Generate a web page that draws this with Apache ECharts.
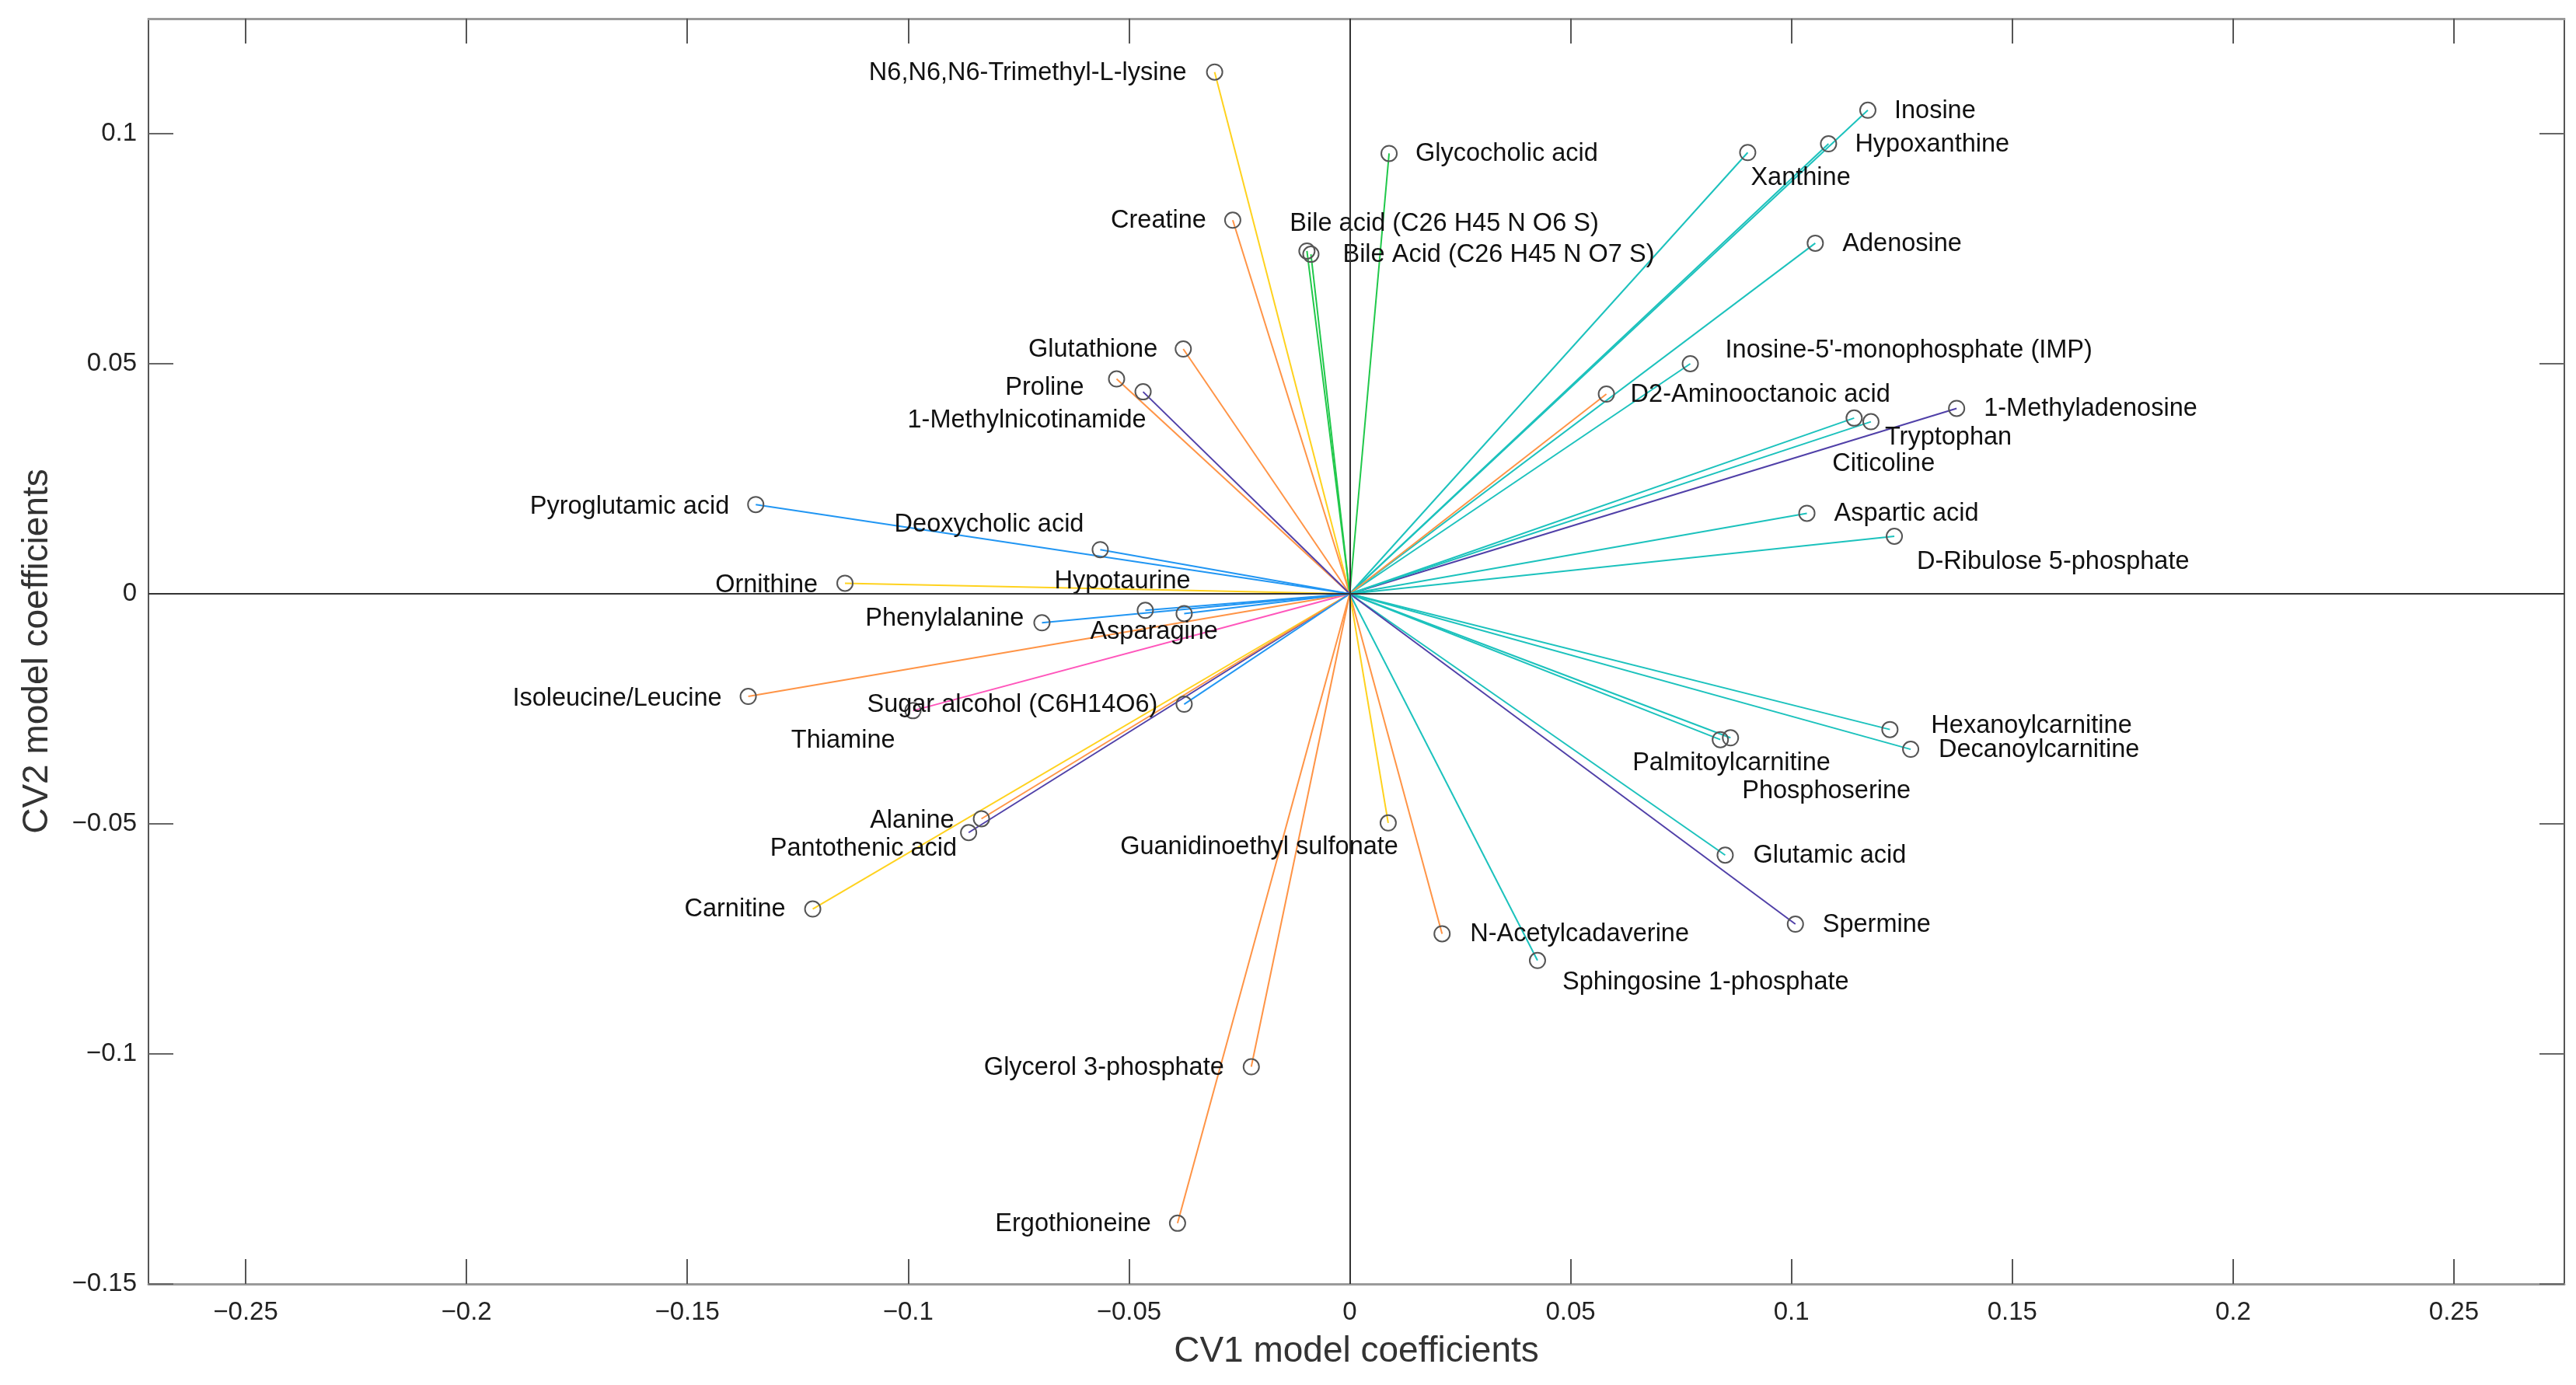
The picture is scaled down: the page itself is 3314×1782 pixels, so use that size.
<!DOCTYPE html>
<html>
<head>
<meta charset="utf-8">
<script src="https://cdn.jsdelivr.net/npm/echarts@6/dist/echarts.min.js"></script>
<style>
html,body{margin:0;padding:0;background:#ffffff;}
#chart{width:3314px;height:1782px;}
</style>
</head>
<body>
<div id="chart"></div>
<script>
// ---------------- data ----------------
const metaboliteNames = [
  "N6,N6,N6-Trimethyl-L-lysine", "Glycocholic acid", "Creatine",
  "Bile acid (C26 H45 N O6 S)", "Bile Acid (C26 H45 N O7 S)", "Glutathione",
  "Proline", "1-Methylnicotinamide", "Inosine", "Hypoxanthine", "Xanthine",
  "Adenosine", "Inosine-5'-monophosphate (IMP)", "D2-Aminooctanoic acid",
  "1-Methyladenosine", "Tryptophan", "Citicoline", "Aspartic acid",
  "D-Ribulose 5-phosphate", "Hexanoylcarnitine", "Decanoylcarnitine",
  "Palmitoylcarnitine", "Phosphoserine", "Glutamic acid", "Spermine",
  "N-Acetylcadaverine", "Sphingosine 1-phosphate", "Glycerol 3-phosphate",
  "Ergothioneine", "Carnitine", "Pantothenic acid", "Alanine",
  "Guanidinoethyl sulfonate", "Sugar alcohol (C6H14O6)", "Thiamine",
  "Isoleucine/Leucine", "Ornithine", "Pyroglutamic acid", "Deoxycholic acid",
  "Hypotaurine", "Asparagine", "Phenylalanine"
];
const cv1Coefficients = [
  -0.0306, 0.0089, -0.0265,
  -0.0097, -0.0088, -0.0377,
  -0.0528, -0.0468, 0.1173, 0.1084, 0.0901,
  0.1054, 0.0771, 0.0581,
  0.1374, 0.1180, 0.1142, 0.1035,
  0.1233, 0.1223, 0.1270,
  0.0839, 0.0862, 0.0850, 0.1009,
  0.0209, 0.0425, -0.0223,
  -0.0390, -0.1216, -0.0863, -0.0834,
  0.0087, -0.0375, -0.0989,
  -0.1362, -0.1143, -0.1345, -0.0565,
  -0.0463, -0.0375, -0.0697
];
const cv2Coefficients = [
  0.1134, 0.0957, 0.0812,
  0.0745, 0.0738, 0.0532,
  0.0467, 0.0439, 0.1051, 0.0978, 0.0959,
  0.0762, 0.0500, 0.0434,
  0.0403, 0.0374, 0.0382, 0.0175,
  0.0125, -0.0295, -0.0338,
  -0.0317, -0.0313, -0.0568, -0.0718,
  -0.0739, -0.0797, -0.1028,
  -0.1368, -0.0685, -0.0519, -0.0489,
  -0.0498, -0.0240, -0.0254,
  -0.0223, 0.0023, 0.0194, 0.0096,
  -0.0036, -0.0043, -0.0063
];
const colorGroups = [
  "yellow", "green", "orange",
  "green", "green", "orange",
  "orange", "purple", "cyan", "cyan", "cyan",
  "cyan", "cyan", "orange",
  "purple", "cyan", "cyan", "cyan",
  "cyan", "cyan", "cyan",
  "cyan", "cyan", "cyan", "purple",
  "orange", "cyan", "orange",
  "orange", "yellow", "purple", "orange",
  "yellow", "blue", "pink",
  "orange", "yellow", "blue", "blue",
  "blue", "blue", "blue"
];
const xTickValues = [-0.25, -0.2, -0.15, -0.1, -0.05, 0, 0.05, 0.1, 0.15, 0.2, 0.25];
const yTickValues = [-0.15, -0.1, -0.05, 0, 0.05, 0.1];

// ---------------- styling / layout ----------------
const groupColor = {
  cyan: "#1cc2bd", orange: "#ff9446", purple: "#5040a8", yellow: "#ffd21e",
  green: "#20c84a", blue: "#2196f3", pink: "#ff55bb"
};
// label placement relative to the marker centre (pixels): [align, dx, dy]
const labelPlacement = [
  ["right", -36, 1], ["left", 34, 1], ["right", -34, 1],
  ["left", -22, -35], ["left", 41, 1], ["right", -33, 1],
  ["right", -42, 11], ["right", 4, 37], ["left", 34, 1], ["left", 34, 1], ["left", 4, 33],
  ["left", 35, 1], ["left", 45, -17], ["left", 31, 1],
  ["left", 35, 1], ["left", 18, 20], ["left", -28, 59], ["left", 35, 1],
  ["left", 29, 33], ["left", 53, -5], ["left", 36, 1],
  ["left", -113, 30], ["left", 15, 69], ["left", 36, 1], ["left", 35, 1],
  ["left", 36, 1], ["left", 32, 28], ["right", -35, 1],
  ["right", -34, 1], ["right", -35, 1], ["right", -15, 21], ["right", -35, 3],
  ["right", 13, 31], ["right", -34, 1], ["right", -23, 39],
  ["right", -34, 3], ["right", -35, 3], ["right", -34, 3], ["right", -21, -32],
  ["left", -117, -37], ["left", -121, 24], ["right", -23, -5]
];

const FONT = "'Liberation Sans', Arial, Helvetica, sans-serif";
const fmt = v => {
  const s = String(Number(v.toFixed(4)));
  return s.replace('-', '\u2212');
};

const lineData = metaboliteNames.map((n, i) => ({
  coords: [[0, 0], [cv1Coefficients[i], cv2Coefficients[i]]],
  lineStyle: { color: groupColor[colorGroups[i]] }
}));

const pointData = metaboliteNames.map((n, i) => ({
  name: n,
  value: [cv1Coefficients[i], cv2Coefficients[i]],
  label: {
    show: true,
    position: 'inside',
    align: labelPlacement[i][0],
    verticalAlign: 'middle',
    offset: [labelPlacement[i][1], labelPlacement[i][2]],
    formatter: n
  }
}));

const xMin = -0.272, xMax = 0.275, yMin = -0.15, yMax = 0.125;

const baseX = {
  type: 'value', min: xMin, max: xMax,
  splitLine: { show: false },
  axisLine: { show: true, onZero: false, lineStyle: { color: '#9a9a9a', width: 3 } },
  axisTick: { show: true, inside: true, length: 32, customValues: xTickValues, lineStyle: { color: '#555', width: 2 } }
};
const baseY = {
  type: 'value', min: yMin, max: yMax,
  splitLine: { show: false },
  axisLine: { show: true, onZero: false, lineStyle: { color: '#555', width: 2 } },
  axisTick: { show: true, inside: true, length: 32, customValues: yTickValues, lineStyle: { color: '#666', width: 2 } }
};

const option = {
  backgroundColor: '#ffffff',
  animation: false,
  grid: { left: 191, right: 15, top: 24, bottom: 130, containLabel: false },
  xAxis: [
    Object.assign({}, baseX, {
      position: 'bottom',
      name: 'CV1 model coefficients', nameLocation: 'middle', nameGap: 64,
      nameTextStyle: { fontSize: 46, color: '#333', fontFamily: FONT },
      axisLabel: { show: true, margin: 20, fontSize: 33, color: '#222', fontFamily: FONT,
        customValues: xTickValues, formatter: fmt }
    }),
    Object.assign({}, baseX, { position: 'top', axisLabel: { show: false } })
  ],
  yAxis: [
    Object.assign({}, baseY, {
      position: 'left',
      name: 'CV2 model coefficients', nameLocation: 'middle', nameGap: 120,
      nameTextStyle: { fontSize: 46, color: '#333', fontFamily: FONT },
      axisLabel: { show: true, margin: 15, fontSize: 33, color: '#222', fontFamily: FONT,
        customValues: yTickValues, formatter: fmt }
    }),
    Object.assign({}, baseY, { position: 'right', axisLabel: { show: false } })
  ],
  series: [
    {
      type: 'scatter', xAxisIndex: 0, yAxisIndex: 0, data: [], silent: true, z: 1,
      markLine: {
        silent: true, symbol: 'none', animation: false,
        label: { show: false },
        lineStyle: { color: '#333', width: 2, type: 'solid' },
        data: [{ xAxis: 0 }, { yAxis: 0 }]
      }
    },
    {
      type: 'lines', coordinateSystem: 'cartesian2d', xAxisIndex: 0, yAxisIndex: 0,
      z: 2, silent: true, polyline: false,
      lineStyle: { width: 2, opacity: 1, curveness: 0 },
      data: lineData
    },
    {
      type: 'scatter', xAxisIndex: 0, yAxisIndex: 0, z: 3,
      symbol: 'circle', symbolSize: 20,
      itemStyle: { color: 'rgba(0,0,0,0)', borderColor: '#555', borderWidth: 2, opacity: 1 },
      label: { color: '#111', fontSize: 32.5, fontFamily: FONT },
      data: pointData
    }
  ]
};

const chart = echarts.init(document.getElementById('chart'), null, { renderer: 'canvas' });
chart.setOption(option);
</script>
</body>
</html>
